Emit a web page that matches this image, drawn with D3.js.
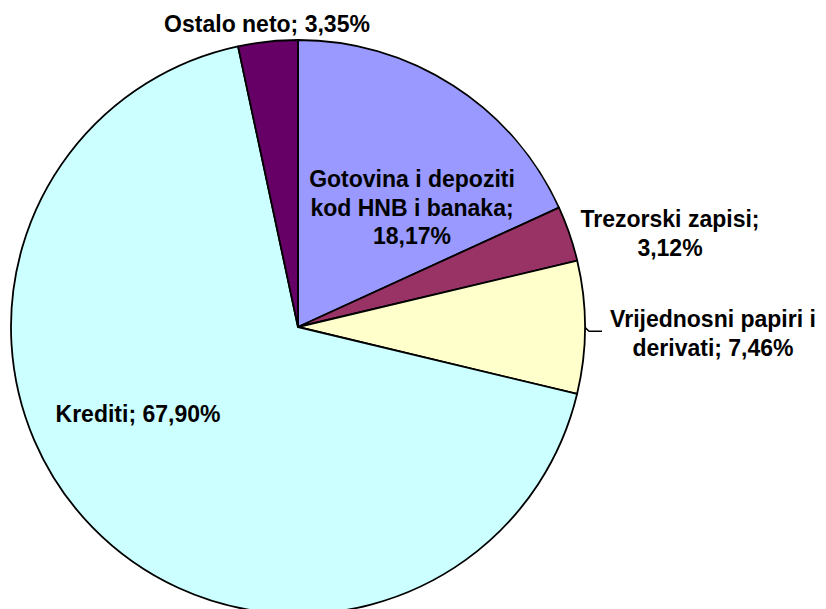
<!DOCTYPE html>
<html>
<head>
<meta charset="utf-8">
<script src="https://cdn.jsdelivr.net/npm/d3@7"></script>
<style>
  body { margin: 0; background: #fff; }
  text { font-family: "Liberation Sans", Arial, Helvetica, sans-serif; font-weight: bold; font-size: 23px; fill: #000; }
</style>
</head>
<body>
<div id="chart"></div>
<script>
  // slice names and shares, clockwise from 12 o'clock
  var categories = ["Gotovina i depoziti kod HNB i banaka", "Trezorski zapisi", "Vrijednosni papiri i derivati", "Krediti", "Ostalo neto"];
  var values = [18.17, 3.12, 7.46, 67.90, 3.35];
  var valueLabels = ["18,17%", "3,12%", "7,46%", "67,90%", "3,35%"];
  // how each label is broken into lines
  var labelLines = [
    ["Gotovina i depoziti", "kod HNB i banaka;", "18,17%"],
    ["Trezorski zapisi;", "3,12%"],
    ["Vrijednosni papiri i", "derivati; 7,46%"],
    ["Krediti; 67,90%"],
    ["Ostalo neto; 3,35%"]
  ];
  var colors = ["#9999ff", "#993366", "#ffffcc", "#ccffff", "#660066"];

  var width = 826, height = 609;
  var cx = 298, cy = 327, radius = 287;

  var svg = d3.select("#chart").append("svg")
      .attr("width", width)
      .attr("height", height);

  var g = svg.append("g").attr("transform", "translate(" + cx + "," + cy + ")");

  var color = d3.scaleOrdinal().domain(categories).range(colors);

  var pie = d3.pie().sort(null).value(function(d, i) { return values[i]; });
  var arcs = pie(categories);

  var arc = d3.arc().innerRadius(0).outerRadius(radius);

  g.selectAll("path.slice")
    .data(arcs)
    .enter()
    .append("path")
    .attr("class", "slice")
    .attr("d", arc)
    .attr("fill", function(d) { return color(d.data); })
    .attr("stroke", "#000")
    .attr("stroke-width", 1.8)
    .attr("stroke-linejoin", "round");

  // label placement: centre of the text block relative to pie centre (x), first baseline (y)
  var labelPos = [
    { x: 114, y: 187 - cy },
    { x: 372, y: 227 - cy },
    { x: 415, y: 327 - cy },
    { x: -160, y: 422 - cy },
    { x: -31, y: 32 - cy }
  ];
  var lineStep = 28.5;

  arcs.forEach(function(d, i) {
    var t = g.append("text")
      .attr("text-anchor", "middle")
      .attr("x", labelPos[i].x)
      .attr("y", labelPos[i].y);
    labelLines[i].forEach(function(line, j) {
      t.append("tspan")
        .attr("x", labelPos[i].x)
        .attr("dy", j === 0 ? 0 : lineStep)
        .text(line);
    });
  });

  // leader line for the securities slice
  var vp = arcs[2];
  var mid = (vp.startAngle + vp.endAngle) / 2;
  var ex = radius * Math.sin(mid), ey = -radius * Math.cos(mid);
  g.append("path")
    .attr("d", d3.line()([[ex, ey], [ex + 4, ey + 4], [ex + 17, ey + 4]]))
    .attr("fill", "none")
    .attr("stroke", "#000")
    .attr("stroke-width", 1.5);
</script>
</body>
</html>
